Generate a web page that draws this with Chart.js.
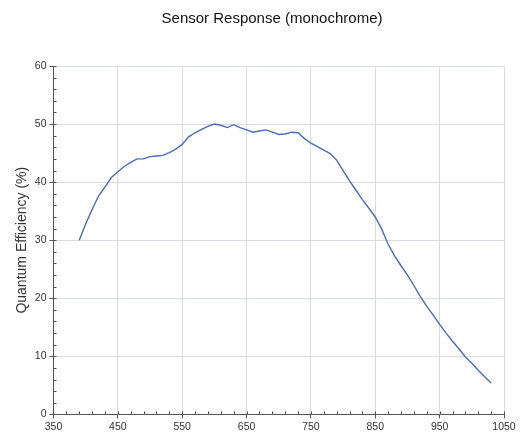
<!DOCTYPE html>
<html>
<head>
<meta charset="utf-8">
<script src="https://cdn.jsdelivr.net/npm/chart.js@4"></script>
<style>
  body { margin: 0; background: #fff; }
  #wrap { width: 521px; height: 437px; position: relative; }
</style>
</head>
<body>
<div id="wrap"><canvas id="grafico"></canvas></div>
<script>
// Comprimento de onda (nm) e eficiência quântica (%)
const comprimentos = [390, 400, 410, 420, 430, 440, 450, 460, 470, 480, 490, 500, 510, 520, 530, 540, 550, 560, 570, 580, 590, 600, 610, 620, 630, 640, 650, 660, 670, 680, 690, 700, 710, 720, 730, 740, 750, 760, 770, 780, 790, 800, 810, 820, 830, 840, 850, 860, 870, 880, 890, 900, 910, 920, 930, 940, 950, 960, 970, 980, 990, 1000, 1010, 1020, 1030];
const eficiencia = [30.0, 32.8, 35.3, 37.6, 39.2, 40.8, 41.8, 42.7, 43.4, 44.0, 44.0, 44.4, 44.5, 44.6, 45.1, 45.7, 46.5, 47.8, 48.5, 49.1, 49.6, 50.0, 49.8, 49.4, 49.9, 49.4, 49.0, 48.6, 48.8, 49.0, 48.6, 48.2, 48.3, 48.6, 48.5, 47.5, 46.7, 46.1, 45.5, 44.9, 43.8, 42.0, 40.2, 38.6, 37.0, 35.5, 34.0, 31.9, 29.3, 27.3, 25.6, 24.0, 22.2, 20.3, 18.6, 17.1, 15.5, 14.0, 12.6, 11.3, 9.9, 8.8, 7.6, 6.5, 5.4];
const xTicks = [350, 450, 550, 650, 750, 850, 950, 1050];
const yTicks = [0, 10, 20, 30, 40, 50, 60];

// desenha os tiques menores para dentro da área do gráfico
const tiquesMenores = {
    id: "tiquesMenores",
    afterLayout(chart) {
        // título um pouco à direita, como no original
        if (chart.titleBlock) {
            chart.titleBlock.left += 13;
            chart.titleBlock.right += 13;
        }
    },
    afterDraw(chart) {
        const { ctx, chartArea, scales } = chart;
        ctx.save();
        ctx.strokeStyle = "#555";
        ctx.lineWidth = 1;
        ctx.beginPath();
        for (let v = 350; v <= 1050; v += 20) {
            const px = Math.round(scales.x.getPixelForValue(v)) + 0.5;
            ctx.moveTo(px, chartArea.bottom);
            ctx.lineTo(px, chartArea.bottom - 3);
        }
        for (let v = 0; v <= 60; v += 2) {
            const py = Math.round(scales.y.getPixelForValue(v)) + 0.5;
            ctx.moveTo(chartArea.left, py);
            ctx.lineTo(chartArea.left + 3, py);
        }
        ctx.stroke();
        ctx.restore();
    },
};

const fonte = "'Liberation Sans', Arial, sans-serif";

new Chart(document.getElementById("grafico").getContext("2d"), {
    type: "line",
    data: {
        datasets: [
            {
                label: "QE",
                data: comprimentos.map((x, i) => ({ x: x, y: eficiencia[i] })),
                borderColor: "#4a6cbb",
                borderWidth: 1.4,
                pointRadius: 0,
                tension: 0,
                fill: false,
            },
        ],
    },
    options: {
        responsive: true,
        maintainAspectRatio: false,
        animation: false,
        layout: { padding: { left: 14, right: 17, bottom: 2 } },
        plugins: {
            legend: { display: false },
            tooltip: { enabled: false },
            title: {
                display: true,
                text: "Sensor Response (monochrome)",
                color: "#111",
                font: { family: fonte, size: 15, weight: "normal" },
                padding: { top: 10, bottom: 38 },
            },
        },
        scales: {
            x: {
                type: "linear",
                min: 350,
                max: 1050,
                afterBuildTicks: (s) => { s.ticks = xTicks.map((v) => ({ value: v })); },
                ticks: { color: "#333", font: { family: fonte, size: 10.5 }, padding: 2, callback: (v) => String(v) },
                grid: { color: "#d8dbe2", tickColor: "#555", tickLength: 4 },
                border: { color: "#555", width: 1 },
            },
            y: {
                min: 0,
                max: 60,
                afterBuildTicks: (s) => { s.ticks = yTicks.map((v) => ({ value: v })); },
                ticks: { color: "#333", font: { family: fonte, size: 10.5 }, padding: 3, callback: (v) => String(v) },
                grid: { color: "#d8dbe2", tickColor: "#555", tickLength: 4 },
                border: { color: "#555", width: 1 },
                title: {
                    display: true,
                    text: "Quantum Efficiency (%)",
                    color: "#333",
                    font: { family: fonte, size: 14 },
                    padding: { top: 0, bottom: 1 },
                },
            },
        },
    },
    plugins: [tiquesMenores],
});
</script>
</body>
</html>
